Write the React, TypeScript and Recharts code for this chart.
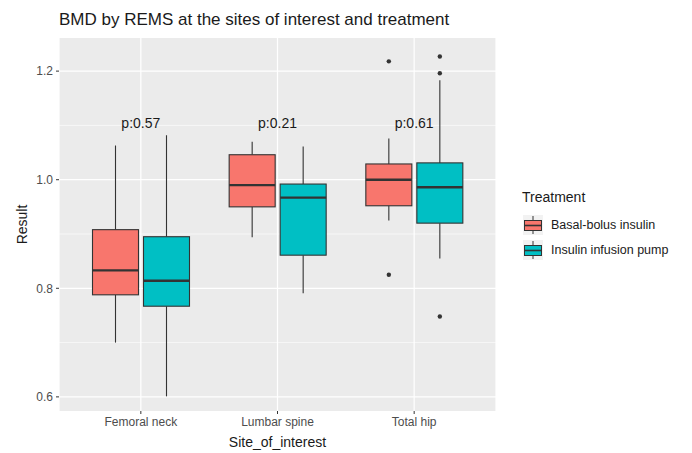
import React from 'react';
import {
  ComposedChart,
  Bar,
  Line,
  XAxis,
  YAxis,
  CartesianGrid,
  Legend,
  LabelList,
} from 'recharts';

const categories = ['Femoral neck', 'Lumbar spine', 'Total hip'];
const pLabels = ['p:0.57', 'p:0.21', 'p:0.61'];
const pLabelValue = 1.105;

// [lower whisker, Q1, median, Q3, upper whisker]
const basalStats = [
  [0.7, 0.788, 0.833, 0.908, 1.063],
  [0.894, 0.95, 0.99, 1.046, 1.07],
  [0.925, 0.952, 1.0, 1.029, 1.076],
];
const basalOutliers = [[], [], [1.218, 0.825]];

const pumpStats = [
  [0.601, 0.767, 0.814, 0.895, 1.082],
  [0.791, 0.861, 0.967, 0.992, 1.061],
  [0.855, 0.92, 0.986, 1.031, 1.183],
];
const pumpOutliers = [[], [], [1.227, 1.196, 0.748]];

const seriesNames = ['Basal-bolus insulin', 'Insulin infusion pump'];
const seriesColors = ['#F8766D', '#00BFC4'];

const yTicks = [0.6, 0.8, 1.0, 1.2];
const yMinor = [0.7, 0.9, 1.1];
const yDomain = [0.574, 1.261];

const data = categories.map((site, i) => ({
  site,
  p: pLabels[i],
  pY: pLabelValue,
  basalStats: basalStats[i],
  pumpStats: pumpStats[i],
  basalOut: basalOutliers[i],
  pumpOut: pumpOutliers[i],
}));

const FONT = '"Liberation Sans", Arial, Helvetica, sans-serif';
const INK = '#333333';

const makeBoxShape = (statsKey: string, outKey: string) => (props: any) => {
  const { x, y, width, height, payload, fill } = props;
  const s: number[] = payload[statsKey];
  const outs: number[] = payload[outKey] || [];
  const top = Math.min(y, y + height);
  const h = Math.abs(height);
  const k = h / (s[3] - s[1]);
  const py = (v: number) => top + (s[3] - v) * k;
  const cx = x + width / 2;
  return (
    <g>
      <line x1={cx} x2={cx} y1={py(s[4])} y2={py(s[3])} stroke={INK} strokeWidth={1.1} />
      <line x1={cx} x2={cx} y1={py(s[1])} y2={py(s[0])} stroke={INK} strokeWidth={1.1} />
      <rect x={x} y={py(s[3])} width={width} height={py(s[1]) - py(s[3])} fill={fill} stroke={INK} strokeWidth={1.1} />
      <line x1={x} x2={x + width} y1={py(s[2])} y2={py(s[2])} stroke={INK} strokeWidth={2.4} />
      {outs.map((o, j) => (
        <circle key={j} cx={cx} cy={py(o)} r={2.2} fill={INK} />
      ))}
    </g>
  );
};

const BasalShape = makeBoxShape('basalStats', 'basalOut');
const PumpShape = makeBoxShape('pumpStats', 'pumpOut');

const LegendKey = ({ color }: { color: string }) => (
  <svg width={20} height={20} style={{ display: 'block' }}>
    <rect x={0} y={0} width={20} height={20} fill="#F2F2F2" />
    <line x1={10} x2={10} y1={1} y2={19} stroke={INK} strokeWidth={1} />
    <rect x={1.5} y={5.5} width={17} height={10} fill={color} stroke={INK} strokeWidth={1} />
    <line x1={1.5} x2={18.5} y1={10.5} y2={10.5} stroke={INK} strokeWidth={1.6} />
  </svg>
);

const renderLegend = () => (
  <div style={{ fontFamily: FONT, color: '#1a1a1a' }}>
    <div style={{ fontSize: 14, marginLeft: 4, marginBottom: 7, lineHeight: '16px' }}>Treatment</div>
    {seriesNames.map((n, i) => (
      <div key={n} style={{ display: 'flex', alignItems: 'center', height: 25, marginLeft: 5 }}>
        <LegendKey color={seriesColors[i]} />
        <span style={{ fontSize: 12.5, marginLeft: 8, color: '#1a1a1a' }}>{n}</span>
      </div>
    ))}
  </div>
);

const YTitle = (props: any) => {
  const vb = props.viewBox || {};
  const cy = vb.y + vb.height / 2;
  return (
    <text
      x={22}
      y={cy}
      transform={`rotate(-90, 22, ${cy})`}
      textAnchor="middle"
      dominantBaseline="central"
      fontSize={14}
      fill="#1a1a1a"
      fontFamily={FONT}
    >
      Result
    </text>
  );
};

export default function App() {
  return (
    <div
      style={{
        position: 'absolute',
        left: 0,
        top: 0,
        width: 692,
        height: 453,
        background: '#fff',
        fontFamily: FONT,
      }}
    >
      <div
        style={{
          position: 'absolute',
          left: 59,
          top: 10,
          fontSize: 17,
          color: '#1a1a1a',
          whiteSpace: 'nowrap',
          lineHeight: 'normal',
        }}
      >
        BMD by REMS at the sites of interest and treatment
      </div>
      <ComposedChart
        width={692}
        height={453}
        data={data}
        margin={{ top: 38, right: 196, bottom: 0, left: 0 }}
        barSize={46}
        barGap={5}
        style={{ position: 'absolute', left: 0, top: 0 }}
      >
        <CartesianGrid
          fill="#EBEBEB"
          fillOpacity={1}
          stroke="#FFFFFF"
          strokeWidth={0.6}
          vertical={false}
          horizontalValues={yMinor}
        />
        <CartesianGrid stroke="#FFFFFF" strokeWidth={1.2} horizontalValues={yTicks} />
        <XAxis
          dataKey="site"
          type="category"
          padding={{ left: 13.5, right: 13.5 }}
          height={42}
          axisLine={false}
          tickSize={3}
          tickMargin={3}
          tickLine={{ stroke: INK }}
          tick={{ fill: '#4D4D4D', fontSize: 12, fontFamily: FONT }}
          label={{
            value: 'Site_of_interest',
            position: 'insideBottom',
            offset: 6,
            fontSize: 14,
            fill: '#1a1a1a',
            fontFamily: FONT,
          }}
        />
        <YAxis
          type="number"
          domain={yDomain}
          ticks={yTicks}
          allowDataOverflow
          width={59}
          axisLine={false}
          tickSize={3}
          tickMargin={3}
          tickLine={{ stroke: INK }}
          tick={{ fill: '#4D4D4D', fontSize: 12, fontFamily: FONT }}
          tickFormatter={(v: number) => v.toFixed(1)}
          label={<YTitle />}
        />
        <Bar
          name={seriesNames[0]}
          dataKey={(d: any) => [d.basalStats[1], d.basalStats[3]]}
          fill={seriesColors[0]}
          shape={BasalShape}
          isAnimationActive={false}
        />
        <Bar
          name={seriesNames[1]}
          dataKey={(d: any) => [d.pumpStats[1], d.pumpStats[3]]}
          fill={seriesColors[1]}
          shape={PumpShape}
          isAnimationActive={false}
        />
        <Line
          dataKey="pY"
          stroke="none"
          dot={false}
          activeDot={false}
          legendType="none"
          isAnimationActive={false}
        >
          <LabelList dataKey="p" position="center" fontSize={14} fill="#1a1a1a" fontFamily={FONT} />
        </Line>
        <Legend
          layout="horizontal"
          verticalAlign="middle"
          align="center"
          content={renderLegend}
          wrapperStyle={{ position: 'absolute', left: 518, top: 189, width: 170, height: 80 }}
        />
      </ComposedChart>
    </div>
  );
}
